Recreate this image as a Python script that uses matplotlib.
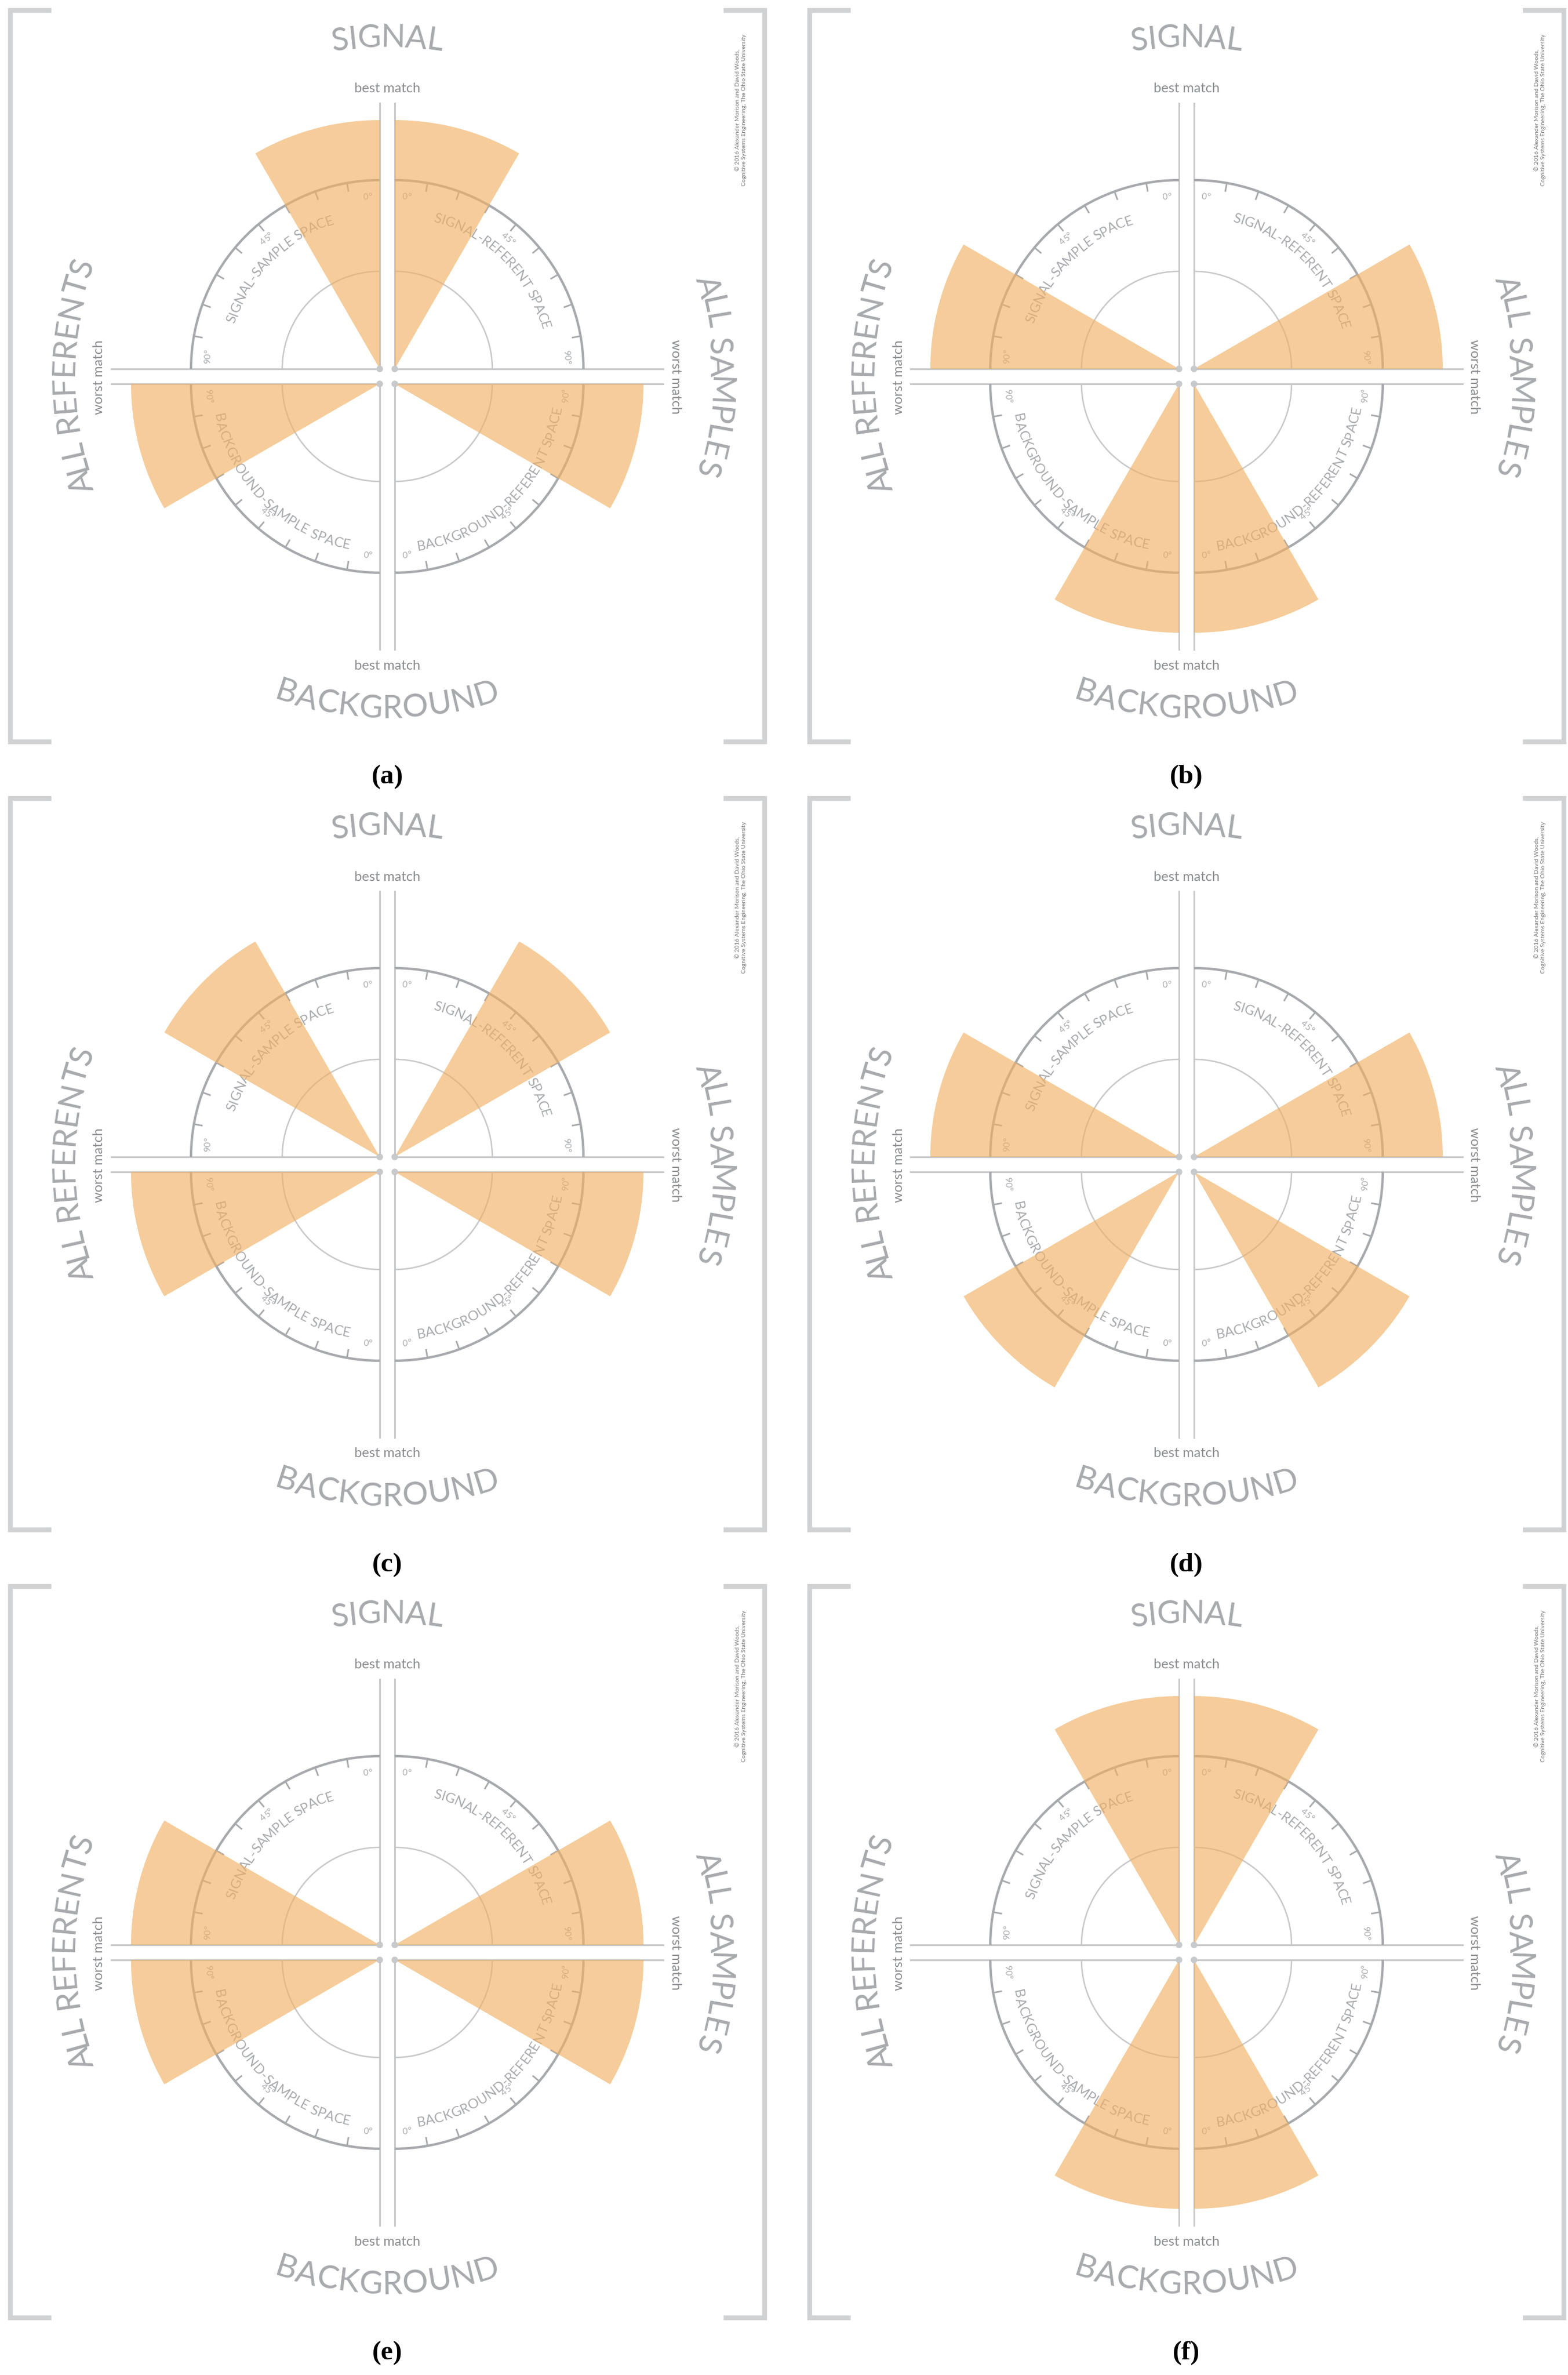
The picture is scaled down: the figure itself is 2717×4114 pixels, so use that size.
import numpy as np
import matplotlib
matplotlib.use("Agg")
import matplotlib.pyplot as plt
from matplotlib.patches import Wedge, Arc, Circle
from matplotlib.font_manager import FontProperties
from matplotlib.textpath import text_to_path

# ---- data: centre angle (deg from the vertical "best match" axis) of each wedge ----
panels = ["(a)", "(b)", "(c)", "(d)", "(e)", "(f)"]
signal_sample = [15, 75, 45, 75, 75, 15]
signal_referent = [15, 75, 45, 75, 75, 15]
background_sample = [75, 15, 75, 45, 75, 15]
background_referent = [75, 15, 75, 45, 75, 15]
wedge_width = 30
wedge_radius = 431

W, H = 2717, 4114
DPI = 100
fig = plt.figure(figsize=(W / DPI, H / DPI), dpi=DPI)
ax = fig.add_axes([0, 0, 1, 1])
ax.set_xlim(0, W)
ax.set_ylim(0, H)
ax.axis("off")

GRAY = "#a7a9ac"
LGRAY = "#c8c9cb"
ORANGE = "#f0b164"
FONT = "Lato"


def char_w(ch, fs_px, weight="normal"):
    fp = FontProperties(family=FONT, size=fs_px, weight=weight)
    w, h, d = text_to_path.get_text_width_height_descent(ch, fp, ismath=False)
    return w


def curved(cx, cy, r, phi0, text, fs_pt, outward=True, color=GRAY, spacing=1.0, z=3):
    fs_px = fs_pt * DPI / 72
    widths = [char_w(c, fs_px) * spacing for c in text]
    total = sum(widths)
    ang_total = np.degrees(total / r)
    sign = -1 if outward else 1
    start = phi0 - sign * ang_total / 2
    acc = 0
    for c, w in zip(text, widths):
        phi = start + sign * np.degrees((acc + w / 2) / r)
        acc += w
        x = cx + r * np.cos(np.radians(phi))
        y = cy + r * np.sin(np.radians(phi))
        rot = phi - 90 if outward else phi + 90
        ax.text(x, y, c, fontsize=fs_pt, family=FONT, color=color, rotation=rot,
                rotation_mode="anchor", ha="center", va="center", zorder=z)


def panel(ox, oy_top, label, ss, sr, bs, br):
    # convert to y-up
    def P(x, y):
        return ox + x, H - (oy_top + y)
    cxm, cym = P(671, 652)
    g = 13
    quads = {
        "tl": (cxm - g, cym + g, lambda t: 90 + t),
        "tr": (cxm + g, cym + g, lambda t: 90 - t),
        "bl": (cxm - g, cym - g, lambda t: 270 - t),
        "br": (cxm + g, cym - g, lambda t: 270 + t),
    }
    vals = {"tl": ss, "tr": sr, "bl": bs, "br": br}
    for k, (qx, qy, f) in quads.items():
        # axes lines
        sx = -1 if k in ("tl", "bl") else 1
        sy = 1 if k in ("tl", "tr") else -1
        ax.plot([qx, qx], [qy, qy + sy * 460], color=LGRAY, lw=2.2, zorder=2)
        ax.plot([qx, qx + sx * 465], [qy, qy], color=LGRAY, lw=2.2, zorder=2)
        ax.add_patch(Circle((qx, qy), 5, color=LGRAY, zorder=6))
        a1, a2 = sorted([f(0), f(90)])
        ax.add_patch(Arc((qx, qy), 2 * 327, 2 * 327, theta1=a1, theta2=a2, color=GRAY, lw=3, zorder=2))
        ax.add_patch(Arc((qx, qy), 2 * 169, 2 * 169, theta1=a1, theta2=a2, color=LGRAY, lw=1.8, zorder=2))
        for t in range(10, 90, 10):
            ph = np.radians(f(t))
            ax.plot([qx + 327 * np.cos(ph), qx + 313 * np.cos(ph)],
                    [qy + 327 * np.sin(ph), qy + 313 * np.sin(ph)], color=GRAY, lw=2, zorder=2)
        top = k in ("tl", "tr")
        for t, lab in [(4, "0°"), (45, "45°"), (86, "90°")]:
            ph = f(t)
            if t == 45:
                ph = f(41)
            curved(qx, qy, 298, ph, lab, 11, outward=top)
        v = vals[k]
        a1, a2 = sorted([f(v - wedge_width / 2), f(v + wedge_width / 2)])
        ax.add_patch(Wedge((qx, qy), wedge_radius, a1, a2, color=ORANGE, alpha=0.65, lw=0, zorder=4))
    # space labels
    curved(quads["tl"][0], quads["tl"][1], 270, 135, "SIGNAL-SAMPLE SPACE", 17, True)
    curved(quads["tr"][0], quads["tr"][1], 270, 45, "SIGNAL-REFERENT SPACE", 17, True)
    curved(quads["bl"][0], quads["bl"][1], 285, 225, "BACKGROUND-SAMPLE SPACE", 17, False)
    curved(quads["br"][0], quads["br"][1], 285, 315, "BACKGROUND-REFERENT SPACE", 17, False)
    # big labels
    curved(cxm, cym, 586, 90, "SIGNAL", 40, True)
    curved(cxm, cym, 576, 270, "BACKGROUND", 40, False)
    curved(cxm, cym, 560, 180, "ALL REFERENTS", 40, True)
    curved(cxm, cym, 575, 0, "ALL SAMPLES", 40, True)
    # match labels
    x, y = P(671, 154); ax.text(x, y, "best match", fontsize=17, family=FONT, color="#8a8c8f", ha="center", va="center")
    x, y = P(671, 1153); ax.text(x, y, "best match", fontsize=17, family=FONT, color="#8a8c8f", ha="center", va="center")
    x, y = P(172, 653); ax.text(x, y, "worst match", fontsize=17, family=FONT, color="#8a8c8f", ha="center", va="center", rotation=90)
    x, y = P(1170, 653); ax.text(x, y, "worst match", fontsize=17, family=FONT, color="#8a8c8f", ha="center", va="center", rotation=-90)
    x, y = P(1284, 190)
    ax.text(x, y, "© 2016 Alexander Morison and David Woods,\nCognitive Systems Engineering, The Ohio State University",
            fontsize=7.5, family=FONT, color="#777", ha="center", va="center", rotation=90, linespacing=1.2)
    # brackets
    for xs in [(85, 18, 18, 85)]:
        pass
    lx, ty = P(18, 18)
    _, by = P(18, 1285)
    ax.plot([ox + 85, ox + 18, ox + 18, ox + 85], [ty, ty, by, by], color="#d1d2d4", lw=6, solid_joinstyle="miter", zorder=1)
    ax.plot([ox + 1258, ox + 1325, ox + 1325, ox + 1258], [ty, ty, by, by], color="#d1d2d4", lw=6, solid_joinstyle="miter", zorder=1)
    x, y = P(671, 1346)
    ax.text(x, y, label, fontsize=34, family="Liberation Serif", weight="bold", ha="center", va="center")


col_off = [0, 1385]
row_off = [0, 1365, 2730]
for i, lab in enumerate(panels):
    r, c = divmod(i, 2)
    panel(col_off[c], row_off[r], lab, signal_sample[i], signal_referent[i],
          background_sample[i], background_referent[i])

fig.savefig("out.png", dpi=DPI, facecolor="white")
